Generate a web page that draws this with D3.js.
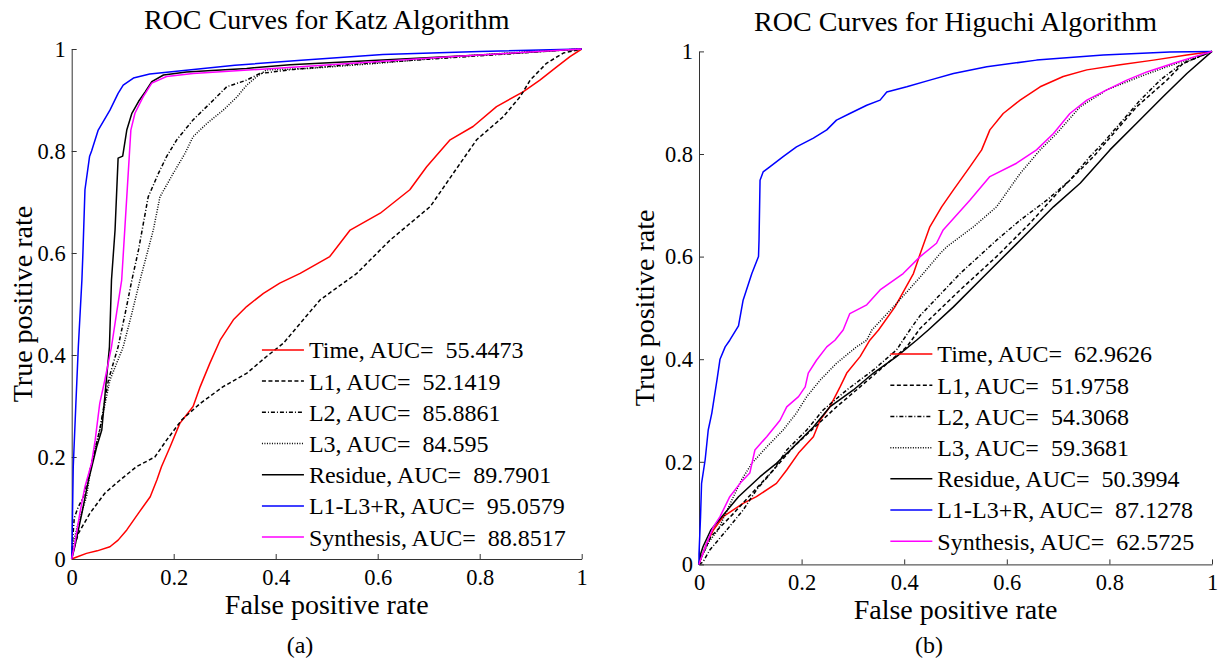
<!DOCTYPE html>
<html>
<head>
<meta charset="utf-8">
<script src="https://cdn.jsdelivr.net/npm/d3@7"></script>
<style>
  body { margin: 0; background: #fff; }
</style>
</head>
<body>
<svg id="chart"></svg>
<script>
// series names and tick labels
var seriesNames = ["Time", "L1", "L2", "L3", "Residue", "L1-L3+R", "Synthesis"];
var tickValues = [0, 0.2, 0.4, 0.6, 0.8, 1];
var tickLabels = ["0", "0.2", "0.4", "0.6", "0.8", "1"];

// AUC values shown in the legends
var katzAUC = ["55.4473", "52.1419", "85.8861", "84.595", "89.7901", "95.0579", "88.8517"];
var higuchiAUC = ["62.9626", "51.9758", "54.3068", "59.3681", "50.3994", "87.1278", "62.5725"];

// Katz ROC points [false positive rate, true positive rate]
var katzTime = [[0,0],[.01,.004],[.029,.011],[.05,.016],[.075,.024],[.091,.037],[.108,.057],[.131,.09],[.154,.122],[.167,.155],[.176,.181],[.193,.22],[.212,.266],[.238,.299],[.252,.338],[.271,.384],[.291,.429],[.317,.469],[.343,.495],[.376,.521],[.408,.541],[.448,.56],[.506,.593],[.546,.645],[.605,.678],[.663,.724],[.696,.769],[.742,.822],[.787,.848],[.833,.887],[.885,.916],[.918,.939],[.951,.965],[.977,.985],[1,1]];
var katzL1 = [[0,0],[.004,.02],[.013,.05],[.036,.09],[.065,.129],[.095,.155],[.127,.181],[.163,.2],[.186,.233],[.216,.273],[.252,.305],[.297,.338],[.343,.364],[.382,.397],[.415,.423],[.448,.462],[.487,.508],[.559,.56],[.624,.625],[.703,.691],[.748,.756],[.794,.822],[.846,.867],[.879,.906],[.899,.939],[.931,.972],[.964,.992],[1,1]];
var katzL2 = [[0,0],[.002,.04],[.005,.08],[.012,.1],[.023,.122],[.039,.188],[.055,.253],[.072,.351],[.091,.416],[.105,.482],[.118,.547],[.131,.606],[.15,.71],[.17,.756],[.186,.789],[.206,.822],[.238,.861],[.278,.9],[.304,.926],[.343,.939],[.369,.952],[.435,.96],[.55,.97],[.7,.98],[.85,.99],[.95,.997],[1,1]];
var katzL3 = [[0,0],[.003,.03],[.01,.06],[.029,.122],[.039,.188],[.055,.253],[.075,.351],[.101,.416],[.118,.482],[.134,.547],[.16,.645],[.173,.71],[.199,.756],[.222,.795],[.238,.828],[.265,.854],[.297,.88],[.324,.906],[.343,.929],[.363,.946],[.382,.959],[.467,.962],[.6,.972],[.75,.985],[.9,.995],[1,1]];
var katzResidue = [[0,0],[.006,.024],[.02,.09],[.033,.155],[.049,.22],[.059,.253],[.066,.33],[.074,.416],[.078,.547],[.085,.645],[.091,.786],[.1,.79],[.108,.841],[.118,.874],[.131,.897],[.144,.916],[.157,.936],[.18,.949],[.225,.955],[.343,.962],[.428,.969],[.6,.978],[.8,.988],[.95,.997],[1,1]];
var katzFusion = [[0,0],[.001,.05],[.003,.18],[.008,.3],[.013,.416],[.02,.547],[.022,.6],[.026,.724],[.035,.789],[.039,.8],[.052,.841],[.075,.88],[.091,.913],[.101,.929],[.121,.943],[.153,.951],[.32,.968],[.45,.978],[.61,.989],[.8,.995],[1,1]];
var katzSynthesis = [[0,0],[.005,.024],[.016,.09],[.026,.142],[.039,.188],[.046,.233],[.055,.305],[.065,.351],[.078,.416],[.088,.482],[.098,.547],[.108,.71],[.116,.841],[.124,.874],[.14,.906],[.157,.933],[.186,.946],[.238,.952],[.448,.965],[.742,.985],[1,1]];

// Higuchi ROC points [false positive rate, true positive rate]
var higTime = [[0,0],[.003,.009],[.015,.041],[.028,.067],[.047,.093],[.086,.119],[.112,.132],[.151,.158],[.171,.184],[.194,.217],[.223,.249],[.236,.281],[.255,.307],[.275,.346],[.288,.373],[.314,.405],[.333,.437],[.35,.457],[.382,.502],[.418,.567],[.431,.605],[.45,.658],[.473,.697],[.496,.73],[.528,.775],[.551,.808],[.567,.847],[.593,.879],[.626,.905],[.665,.931],[.71,.951],[.756,.964],[.821,.974],[.886,.983],[.951,.993],[1,1]];
var higL1 = [[0,0],[.002,.009],[.023,.054],[.067,.099],[.109,.145],[.145,.184],[.184,.229],[.226,.268],[.268,.307],[.314,.346],[.359,.385],[.405,.424],[.431,.46],[.509,.535],[.58,.6],[.645,.665],[.704,.73],[.769,.795],[.808,.84],[.853,.892],[.912,.944],[.944,.977],[1,1]];
var higL2 = [[0,0],[.008,.005],[.021,.028],[.054,.067],[.086,.106],[.112,.145],[.145,.184],[.171,.223],[.21,.262],[.242,.301],[.288,.34],[.34,.379],[.385,.418],[.411,.457],[.431,.485],[.509,.567],[.58,.632],[.626,.671],[.678,.71],[.723,.749],[.762,.795],[.788,.822],[.821,.86],[.86,.905],[.899,.944],[.938,.974],[1,1]];
var higL3 = [[0,0],[.005,.015],[.02,.045],[.037,.067],[.067,.132],[.083,.165],[.103,.197],[.132,.229],[.164,.262],[.19,.295],[.21,.327],[.236,.359],[.268,.392],[.307,.424],[.327,.437],[.337,.457],[.379,.502],[.431,.56],[.47,.606],[.483,.619],[.535,.658],[.58,.697],[.626,.762],[.665,.808],[.697,.84],[.743,.892],[.795,.925],[.86,.951],[.912,.97],[1,1]];
var higResidue = [[0,0],[.003,.02],[.008,.035],[.023,.067],[.077,.132],[.119,.171],[.151,.197],[.184,.229],[.223,.268],[.255,.307],[.301,.34],[.34,.373],[.385,.405],[.424,.437],[.447,.457],[.496,.502],[.561,.567],[.626,.632],[.691,.697],[.743,.743],[.801,.808],[.853,.86],[.905,.912],[.951,.957],[1,1]];
var higFusion = [[0,0],[0,.02],[.003,.093],[.005,.158],[.012,.204],[.018,.262],[.025,.295],[.035,.359],[.041,.4],[.051,.424],[.06,.437],[.077,.465],[.086,.515],[.103,.567],[.116,.6],[.117,.632],[.119,.749],[.125,.765],[.138,.775],[.164,.795],[.19,.814],[.223,.831],[.249,.847],[.268,.866],[.294,.879],[.327,.895],[.353,.905],[.366,.921],[.405,.931],[.45,.944],[.496,.957],[.561,.97],[.658,.983],[.788,.993],[.918,.999],[1,1]];
var higSynthesis = [[0,0],[.003,.009],[.015,.041],[.028,.073],[.041,.093],[.06,.132],[.08,.158],[.099,.178],[.109,.223],[.132,.249],[.158,.281],[.171,.307],[.194,.327],[.207,.346],[.213,.373],[.229,.398],[.249,.424],[.265,.437],[.281,.457],[.294,.489],[.327,.506],[.353,.535],[.398,.567],[.431,.6],[.463,.626],[.476,.652],[.528,.71],[.567,.756],[.619,.782],[.658,.808],[.691,.84],[.723,.879],[.756,.905],[.795,.925],[.834,.944],[.873,.96],[.925,.977],[1,1]];

// line styles, one per series (same order as seriesNames)
var seriesColors = ["#ff0000", "#000", "#000", "#000", "#000", "#0000ff", "#ff00ff"];
var seriesDashes = [null, "4,2.5", "4,2,1,2", "1,1.5", null, null, null];
var serif = "'Liberation Serif', 'Times New Roman', Tinos, serif";

var svg = d3.select("#chart")
    .attr("width", 1225)
    .attr("height", 662);

svg.append("rect")
    .attr("width", 1225)
    .attr("height", 662)
    .attr("fill", "#fff");

drawPanel({
    left: 71.7, top: 49, size: 510,
    title: "ROC Curves for Katz Algorithm", titleY: 29,
    caption: "(a)", captionX: 300,
    ylabelX: 32,
    series: [katzTime, katzL1, katzL2, katzL3, katzResidue, katzFusion, katzSynthesis],
    auc: katzAUC
});

drawPanel({
    left: 699, top: 51.4, size: 513,
    title: "ROC Curves for Higuchi Algorithm", titleY: 31,
    caption: "(b)", captionX: 929,
    ylabelX: 654,
    series: [higTime, higL1, higL2, higL3, higResidue, higFusion, higSynthesis],
    auc: higuchiAUC
});

/**
 * Draws one ROC panel (axes, curves, legend, labels)
 * @param {object} p panel settings and data
 */
function drawPanel(p) {
    var w = p.size, h = p.size;

    var g = svg.append("g")
        .attr("transform", "translate(" + p.left + "," + p.top + ")");

    var x = d3.scaleLinear().domain([0, 1]).range([0, w]);
    var y = d3.scaleLinear().domain([0, 1]).range([h, 0]);

    //bottom axis, ticks pointing inwards
    var xAxis = g.append("g")
        .attr("transform", "translate(0," + h + ")")
        .call(d3.axisBottom(x)
            .tickValues(tickValues)
            .tickFormat(function(d, i) { return tickLabels[i]; })
            .tickSizeInner(-5)
            .tickSizeOuter(0)
            .tickPadding(10));

    //left axis
    var yAxis = g.append("g")
        .call(d3.axisLeft(y)
            .tickValues(tickValues)
            .tickFormat(function(d, i) { return tickLabels[i]; })
            .tickSizeInner(-5)
            .tickSizeOuter(0)
            .tickPadding(6));

    [xAxis, yAxis].forEach(function(ax) {
        ax.selectAll("path, line").attr("stroke", "#333");
        ax.selectAll("text")
            .style("font-family", serif)
            .style("font-size", "22.5px")
            .attr("fill", "#000");
    });
    xAxis.selectAll("text").attr("dy", "0.71em");

    //roc curves
    var line = d3.line()
        .x(function(d) { return x(d[0]); })
        .y(function(d) { return y(d[1]); });

    g.selectAll(".roc")
        .data(p.series)
        .enter()
        .append("path")
        .attr("class", "roc")
        .attr("fill", "none")
        .attr("stroke", function(d, i) { return seriesColors[i]; })
        .attr("stroke-width", 1.5)
        .attr("stroke-dasharray", function(d, i) { return seriesDashes[i]; })
        .attr("stroke-linejoin", "round")
        .attr("d", line);

    //legend (no box)
    var lx = x(0.373), ly = y(0.41), step = 31.2;
    var legend = g.selectAll(".legend")
        .data(seriesNames)
        .enter()
        .append("g")
        .attr("class", "legend")
        .attr("transform", function(d, i) { return "translate(" + lx + "," + (ly + i * step) + ")"; });

    legend.append("line")
        .attr("x1", 0).attr("x2", 42)
        .attr("stroke", function(d, i) { return seriesColors[i]; })
        .attr("stroke-width", 1.5)
        .attr("stroke-dasharray", function(d, i) { return seriesDashes[i]; });

    legend.append("text")
        .attr("x", 47)
        .attr("dy", "0.35em")
        .style("font-family", serif)
        .style("font-size", "24px")
        .style("white-space", "pre")
        .text(function(d, i) { return d + ", AUC=  " + p.auc[i]; });

    //title
    svg.append("text")
        .attr("x", p.left + w / 2)
        .attr("y", p.titleY)
        .attr("text-anchor", "middle")
        .style("font-family", serif)
        .style("font-size", "28px")
        .text(p.title);

    //axis labels
    svg.append("text")
        .attr("x", p.left + w / 2)
        .attr("y", p.top + h + 55)
        .attr("text-anchor", "middle")
        .style("font-family", serif)
        .style("font-size", "28px")
        .text("False positive rate");

    svg.append("text")
        .attr("transform", "translate(" + p.ylabelX + "," + (p.top + h / 2) + ") rotate(-90)")
        .attr("text-anchor", "middle")
        .style("font-family", serif)
        .style("font-size", "28px")
        .text("True positive rate");

    //sub caption
    svg.append("text")
        .attr("x", p.captionX)
        .attr("y", 653)
        .attr("text-anchor", "middle")
        .style("font-family", serif)
        .style("font-size", "24px")
        .text(p.caption);
}
</script>
</body>
</html>
